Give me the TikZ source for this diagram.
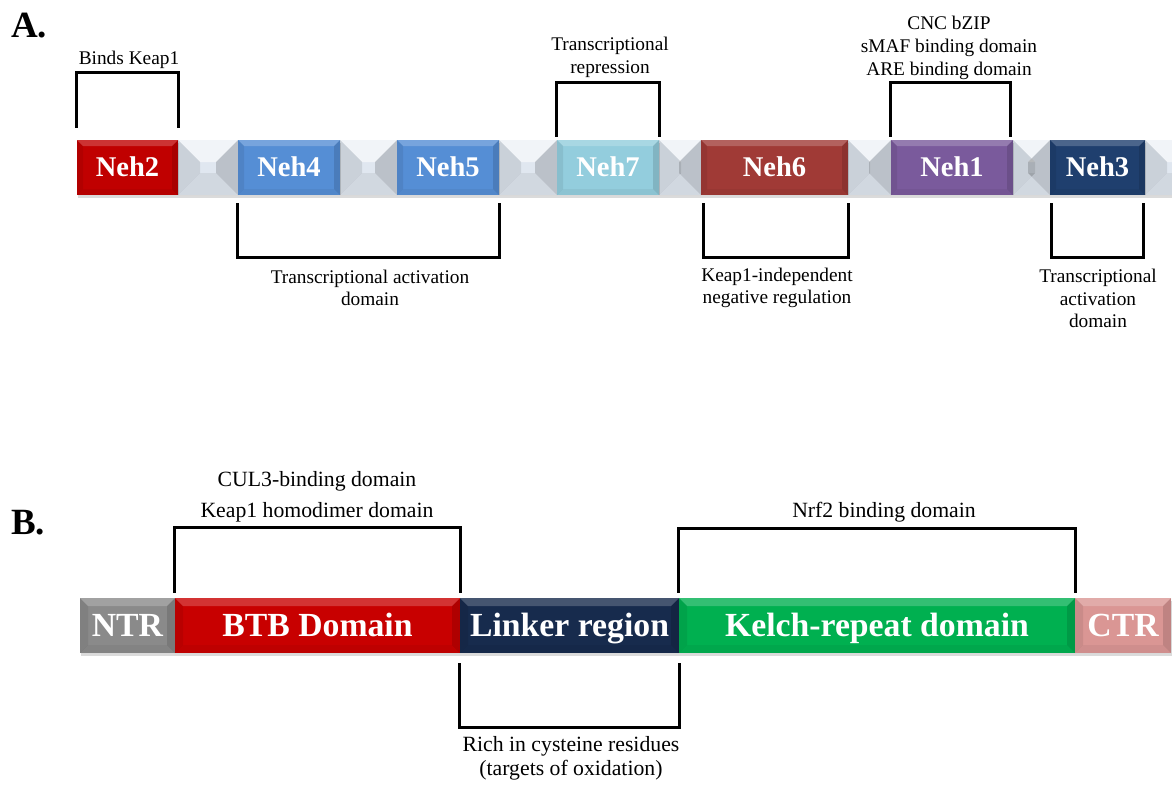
\documentclass[tikz,border=0pt]{standalone}
\usepackage{fontspec}
\setmainfont{Liberation Serif}
\usetikzlibrary{calc,shadows}

\definecolor{nehred}{HTML}{C00000}
\definecolor{nehblue}{HTML}{558ED5}
\definecolor{nehteal}{HTML}{93CDDD}
\definecolor{nehbrown}{HTML}{A03A36}
\definecolor{nehpurple}{HTML}{7A5A9C}
\definecolor{nehnavy}{HTML}{1F3F6E}
\definecolor{linkgray}{HTML}{E0E7F0}
\definecolor{ntrgray}{HTML}{8A8A8A}
\definecolor{btbred}{HTML}{C80000}
\definecolor{linkernavy}{HTML}{172B4D}
\definecolor{kelchgreen}{HTML}{00B050}
\definecolor{ctrpink}{HTML}{DA9694}

\tikzset{
    bevel/.style n args={3}{path picture={
        \coordinate (nw) at (path picture bounding box.north west);
        \coordinate (ne) at (path picture bounding box.north east);
        \coordinate (sw) at (path picture bounding box.south west);
        \coordinate (se) at (path picture bounding box.south east);
        \fill[white, opacity=#2] (nw) -- (ne) -- ($(ne)+(-#1,#1)$) -- ($(nw)+(#1,#1)$) -- cycle;
        \fill[black, opacity=0.6*#3] (nw) -- ($(nw)+(#1,#1)$) -- ($(sw)+(#1,-#1)$) -- (sw) -- cycle;
        \fill[black, opacity=#3] (ne) -- ($(ne)+(-#1,#1)$) -- ($(se)+(-#1,-#1)$) -- (se) -- cycle;
        \fill[black, opacity=0.4*#3] (sw) -- (se) -- ($(se)+(-#1,-#1)$) -- ($(sw)+(#1,-#1)$) -- cycle;
    }},
    block/.style={rectangle, inner sep=0pt, text=white, minimum height=41.25pt, text depth=0pt,
        drop shadow={shadow xshift=0.5pt, shadow yshift=-2pt, opacity=0.2, fill=black!70}},
    nehbox/.style={block, bevel={6}{0.2}{0.12}, text height=14.1pt,
        font=\fontsize{21.4}{24}\selectfont\bfseries},
    link/.style={block, fill=linkgray, bevel={22}{0.55}{0.16}},
    keapbox/.style={block, bevel={8}{0.2}{0.12}, text height=16.7pt,
        font=\fontsize{25.3}{28}\selectfont\bfseries},
    bracket/.style={draw, line width=2.3pt},
    labA/.style={align=center, font=\fontsize{14.5}{17}\selectfont},
    labB/.style={align=center, font=\fontsize{16.3}{18}\selectfont},
    panel/.style={inner sep=0pt, anchor=base west, font=\fontsize{27.75}{30}\selectfont\bfseries}
}

\begin{document}
\begin{tikzpicture}[x=0.75pt, y=-0.75pt]
    \useasboundingbox (0,0) rectangle (1172,785);

    % A. Nrf2
    \node[panel] (pa) at (11,37) {A.};
    \foreach \xa/\xb [count=\i] in {178/238, 340/397, 499/557, 659/701, 848/891, 1013/1050, 1145/1200}{
        \node[link, minimum width={(\xb-\xa)*0.75pt}] (linkA\i) at ({(\xa+\xb)/2},167.5) {};
    }
    \foreach \nm/\xa/\xb/\col/\txt in {neh2/77/178/nehred/Neh2, neh4/238/340/nehblue/Neh4,
        neh5/397/499/nehblue/Neh5, neh7/557/659/nehteal/Neh7, neh6/701/848/nehbrown/Neh6,
        neh1/891/1013/nehpurple/Neh1, neh3/1050/1145/nehnavy/Neh3}{
        \node[nehbox, fill=\col, minimum width={(\xb-\xa)*0.75pt}] (\nm) at ({(\xa+\xb)/2},167.5) {\txt};
    }
    \draw[bracket] ([yshift=9pt]neh2.north west) -- ++(0,-55) -| ([yshift=9pt]neh2.north east);
    \draw[bracket] ([yshift=2.25pt]neh7.north west) -- ++(0,-54) -| ([yshift=2.25pt]neh7.north east);
    \draw[bracket] ([yshift=2.25pt]neh1.north west) -- ++(0,-54) -| ([xshift=-2.25pt,yshift=2.25pt]neh1.north east);
    \draw[bracket] ([yshift=-6pt]neh4.south west) -- ++(0,54) -| ([yshift=-6pt]neh5.south east);
    \draw[bracket] ([xshift=2.25pt,yshift=-6pt]neh6.south west) -- ++(0,54) -| ([yshift=-6pt]neh6.south east);
    \draw[bracket] ([xshift=1.5pt,yshift=-6pt]neh3.south west) -- ++(0,54) -| ([xshift=-1.5pt,yshift=-6pt]neh3.south east);
    \node[labA] (keapbind) at (129,59.5) {Binds Keap1};
    \node[labA] (repress) at (610,57.5) {Transcriptional\\repression};
    \node[labA] (cnc) at (949,48) {CNC bZIP\\sMAF binding domain\\ARE binding domain};
    \node[labA] (tad) at (370,288) {Transcriptional activation\\domain};
    \node[labA] (negreg) at (777,288) {Keap1-independent\\negative regulation};
    \node[labA] (tad3) at (1098,298.5) {Transcriptional\\activation\\domain};

    % B. Keap1
    \node[panel] (pb) at (11,534) {B.};
    \foreach \nm/\xa/\xb/\col/\txt in {ntr/80/175/ntrgray/NTR, btb/175/460/btbred/BTB Domain,
        linker/460/679/linkernavy/Linker region, kelch/679/1075/kelchgreen/Kelch-repeat domain,
        ctr/1075/1171/ctrpink/CTR}{
        \node[keapbox, fill=\col, minimum width={(\xb-\xa)*0.75pt}] (\nm) at ({(\xa+\xb)/2},625.5) {\txt};
    }
    \draw[bracket] ([yshift=3.75pt]btb.north west) -- ++(0,-65) -| ([yshift=3.75pt]btb.north east);
    \draw[bracket] ([yshift=3.75pt]kelch.north west) -- ++(0,-64) -| ([yshift=3.75pt]kelch.north east);
    \draw[bracket] ([yshift=-7.5pt]linker.south west) -- ++(0,64) -| ([yshift=-7.5pt]linker.south east);
    \node[labB] (cul3) at (317,497) {CUL3-binding domain\\[5pt]Keap1 homodimer domain};
    \node[labB] (nrf2) at (884,512) {Nrf2 binding domain};
    \node[labB] (cys) at (571,758) {Rich in cysteine residues\\(targets of oxidation)};
\end{tikzpicture}
\end{document}
